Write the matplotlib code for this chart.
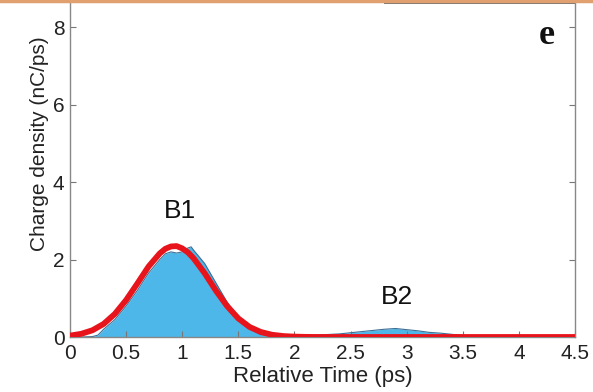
import matplotlib.pyplot as plt
from matplotlib.lines import Line2D
from matplotlib.patches import Rectangle

# measured charge density (blue fill)
t_meas = [0, 0.1, 0.2, 0.25, 0.3, 0.4, 0.5, 0.6, 0.7, 0.8, 0.85, 0.9, 0.95,
          1.0, 1.05, 1.08, 1.1, 1.2, 1.3, 1.4, 1.5, 1.6, 1.7, 1.8, 1.9,
          2.0, 2.2, 2.4, 2.6, 2.7, 2.8, 2.9, 3.0, 3.1, 3.2, 3.3, 3.4, 3.5,
          3.6, 3.7, 4.0, 4.5]
q_meas = [0, 0, 0.01, 0.05, 0.2, 0.45, 0.8, 1.2, 1.65, 2.0, 2.15, 2.2, 2.17,
          2.2, 2.3, 2.33, 2.25, 1.9, 1.4, 0.9, 0.5, 0.22, 0.06, 0.02, 0.01,
          0.02, 0.05, 0.08, 0.14, 0.17, 0.2, 0.22, 0.19, 0.16, 0.12, 0.1,
          0.07, 0.04, 0.01, 0, 0, 0]

# gaussian fit (red)
t_fit = [0, 0.1, 0.2, 0.3, 0.4, 0.5, 0.6, 0.7, 0.8, 0.85, 0.9, 0.95, 1.0,
         1.05, 1.1, 1.2, 1.3, 1.4, 1.5, 1.6, 1.7, 1.8, 1.9, 2.0, 2.1, 2.2,
         2.5, 3.0, 3.5, 4.0, 4.5]
q_fit = [0.035, 0.082, 0.174, 0.338, 0.597, 0.953, 1.38, 1.82, 2.16, 2.28,
         2.34, 2.35, 2.29, 2.19, 2.04, 1.65, 1.20, 0.80, 0.48, 0.26, 0.13,
         0.058, 0.024, 0.009, 0.003, 0.0, 0, 0, 0, 0, 0]

xticks = [0, 0.5, 1, 1.5, 2, 2.5, 3, 3.5, 4, 4.5]
xticklabels = ["0", "0.5", "1", "1.5", "2", "2.5", "3", "3.5", "4", "4.5"]
yticks = [0, 2, 4, 6, 8]

plt.rcParams['font.family'] = ['Liberation Sans', 'DejaVu Sans']

fig = plt.figure(figsize=(5.93, 3.92), dpi=100)
# axes run past the top edge of the picture (ylim 0..10, top cut off)
ax = fig.add_axes([0.118, 0.1403, 0.8516, 0.987])

ax.fill_between(t_meas, q_meas, color='#4cb7e8', lw=0, zorder=1)
ax.plot(t_meas, q_meas, color='#3d6f96', lw=0.8, zorder=2)
ax.plot(t_fit, q_fit, color='#e8141c', lw=4.2, solid_capstyle='round', zorder=3)

ax.text(0.98, 3.25, "B1", fontsize=19, ha='center', va='center', color='#111111')
ax.text(2.91, 1.03, "B2", fontsize=19, ha='center', va='center', color='#111111')
ax.text(4.25, 7.8, "e", fontsize=26, fontweight='bold', family='Liberation Serif',
        ha='center', va='center', color='#111111')

# edge of a box cut off at the top
ax.add_patch(Rectangle((2.8, 8.63), 1.7, 2.0, fill=False, ec='#555555', lw=1.2, zorder=4))

ax.set_xlim(0, 4.5)
ax.set_ylim(0, 10)
ax.set_xticks(xticks)
ax.set_xticklabels(xticklabels)
ax.set_yticks(yticks)
ax.tick_params(direction='in', length=4, width=0.8, color='#777777',
               labelsize=15, labelcolor='#222222', top=True, right=True)
ax.tick_params(axis='x', pad=5)
ax.tick_params(axis='y', pad=4)
for s in ax.spines.values():
    s.set_color('#888888')
    s.set_linewidth(1.0)

ax.set_xlabel("Relative Time (ps)", fontsize=16, color='#222222', labelpad=2)
ax.set_ylabel("Charge density (nC/ps)", fontsize=15, color='#222222', labelpad=3)

fig.add_artist(Line2D([0, 1], [0.997, 0.997], color='#e0a070', lw=2.5))

fig.savefig("out.png", dpi=100)
